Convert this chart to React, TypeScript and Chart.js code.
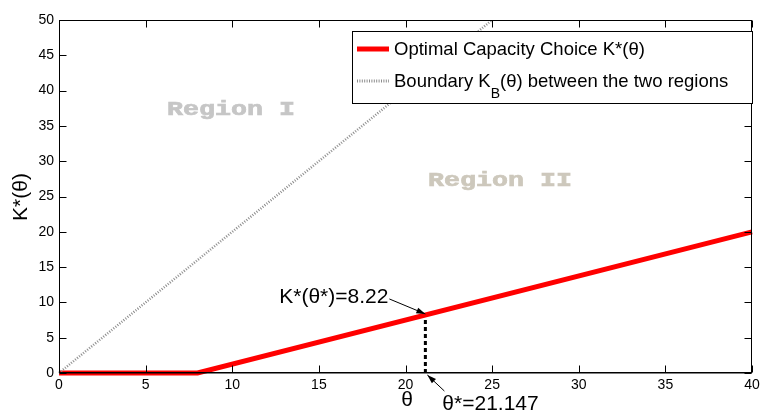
import { useEffect, useRef } from 'react';
import { Chart, registerables } from 'chart.js';

Chart.register(...registerables);

const W = 781;
const H = 411;

// Optimal capacity choice K*(θ)
const kStarTheta = [0, 8, 40];
const kStarValues = [0, 0, 20];
// Boundary K_B(θ) between the two regions
const boundaryTheta = [0, 25];
const boundaryValues = [0, 50];
// Threshold point
const thetaStar = 21.147;
const kAtThetaStar = 8.22;

const xMin = 0, xMax = 40, xStep = 5;
const yMin = 0, yMax = 50, yStep = 5;

const legendLabels = ['Optimal Capacity Choice K*(θ)', 'Boundary K', 'B', '(θ) between the two regions'];
const axisTitles = ['θ', 'K*(θ)'];
const annotationTexts = ['K*(θ*)=8.22', 'θ*=21.147'];
const regionLabels = ['Region I', 'Region II'];
const regionTheta = [6.23, 21.3];
const regionK = [37.25, 27.2];

const SANS = '"Liberation Sans", Arial, sans-serif';
const MONO = '"Liberation Mono", "Courier New", monospace';
const BOUNDARY_COLOR = '#8c8c8c';

function arrow(ctx: CanvasRenderingContext2D, x0: number, y0: number, x1: number, y1: number) {
  ctx.beginPath();
  ctx.moveTo(x0, y0);
  ctx.lineTo(x1, y1);
  ctx.strokeStyle = '#000';
  ctx.lineWidth = 1;
  ctx.setLineDash([]);
  ctx.stroke();
  const ang = Math.atan2(y1 - y0, x1 - x0);
  const len = 9, wid = 3;
  ctx.beginPath();
  ctx.moveTo(x1, y1);
  ctx.lineTo(x1 - len * Math.cos(ang) + wid * Math.sin(ang), y1 - len * Math.sin(ang) - wid * Math.cos(ang));
  ctx.lineTo(x1 - len * Math.cos(ang) - wid * Math.sin(ang), y1 - len * Math.sin(ang) + wid * Math.cos(ang));
  ctx.closePath();
  ctx.fillStyle = '#000';
  ctx.fill();
}

const decorPlugin = {
  id: 'decor',
  beforeDatasetsDraw(chart: any) {
    const { ctx, scales } = chart;
    const x = scales.x, y = scales.y;
    ctx.save();
    ctx.font = `bold 21px ${MONO}`;
    ctx.textBaseline = 'middle';
    ctx.textAlign = 'left';
    const cols = ['#c6c6c6', '#cdc8bc'];
    regionLabels.forEach((t, i) => {
      const px = x.getPixelForValue(regionTheta[i]);
      const py = y.getPixelForValue(regionK[i]);
      ctx.save();
      ctx.translate(px, py);
      ctx.scale(1.27, 1);
      ctx.fillStyle = cols[i];
      ctx.strokeStyle = cols[i];
      ctx.lineWidth = 0.7;
      ctx.fillText(t, 0, 0);
      ctx.strokeText(t, 0, 0);
      ctx.restore();
    });
    ctx.restore();
  },
  afterDatasetsDraw(chart: any) {
    const { ctx, chartArea: a, scales } = chart;
    const x = scales.x, y = scales.y;
    ctx.save();
    const L = Math.round(a.left) + 0.5, R = Math.round(a.right) - 0.5;
    const T = Math.round(a.top) + 0.5, B = Math.round(a.bottom) - 0.5;
    ctx.strokeStyle = '#000';
    ctx.lineWidth = 1;
    ctx.setLineDash([]);
    ctx.strokeRect(L, T, R - L, B - T);
    ctx.beginPath();
    ctx.moveTo(L, B + 0.5);
    ctx.lineTo(R, B + 0.5);
    ctx.stroke();
    const tl = 7;
    ctx.beginPath();
    for (let v = xMin; v <= xMax; v += xStep) {
      const px = Math.round(x.getPixelForValue(v)) + 0.5;
      ctx.moveTo(px, B); ctx.lineTo(px, B - tl);
      ctx.moveTo(px, T); ctx.lineTo(px, T + tl);
    }
    for (let v = yMin; v <= yMax; v += yStep) {
      const py = Math.round(y.getPixelForValue(v)) + 0.5;
      ctx.moveTo(L, py); ctx.lineTo(L + tl, py);
      ctx.moveTo(R, py); ctx.lineTo(R - tl, py);
    }
    ctx.stroke();

    // axis titles
    ctx.fillStyle = '#000';
    ctx.font = `21px ${SANS}`;
    ctx.textAlign = 'center';
    ctx.textBaseline = 'middle';
    ctx.fillText(axisTitles[0], (a.left + a.right) / 2 + 1.5, 400);
    ctx.save();
    ctx.translate(21, (a.top + a.bottom) / 2 + 0.5);
    ctx.rotate(-Math.PI / 2);
    ctx.fillText(axisTitles[1], 0, 0);
    ctx.restore();

    // annotations
    const tx = x.getPixelForValue(thetaStar);
    const ty = y.getPixelForValue(kAtThetaStar);
    const ty0 = y.getPixelForValue(0);
    arrow(ctx, tx - 36, ty - 16, tx, ty - 1);
    ctx.font = `21px ${SANS}`;
    ctx.textAlign = 'right';
    ctx.textBaseline = 'middle';
    ctx.fillStyle = '#000';
    ctx.fillText(annotationTexts[0], tx - 37, ty - 18);
    arrow(ctx, tx + 19, ty0 + 18, tx + 2, ty0 + 2);
    ctx.textAlign = 'left';
    ctx.fillText(annotationTexts[1], tx + 17, ty0 + 31);

    // legend
    const lx = 352.5, ly = 31.5, lw = 400, lh = 72;
    ctx.fillStyle = '#fff';
    ctx.fillRect(lx, ly, lw, lh);
    ctx.strokeStyle = '#000';
    ctx.lineWidth = 1;
    ctx.strokeRect(lx, ly, lw, lh);
    const r1 = 49, r2 = 81;
    ctx.beginPath();
    ctx.moveTo(357, r1); ctx.lineTo(389, r1);
    ctx.strokeStyle = '#ff0000';
    ctx.lineWidth = 5;
    ctx.stroke();
    ctx.beginPath();
    ctx.moveTo(357, r2); ctx.lineTo(389, r2);
    ctx.strokeStyle = BOUNDARY_COLOR;
    ctx.lineWidth = 3;
    ctx.setLineDash([1, 1.4]);
    ctx.stroke();
    ctx.setLineDash([]);
    ctx.fillStyle = '#000';
    ctx.textAlign = 'left';
    ctx.textBaseline = 'middle';
    ctx.font = `18.5px ${SANS}`;
    ctx.fillText(legendLabels[0], 394, r1 + 1);
    let cx = 394;
    ctx.fillText(legendLabels[1], cx, r2 + 1);
    cx += ctx.measureText(legendLabels[1]).width;
    ctx.font = `14px ${SANS}`;
    ctx.fillText(legendLabels[2], cx, r2 + 13);
    cx += ctx.measureText(legendLabels[2]).width;
    ctx.font = `18.5px ${SANS}`;
    ctx.fillText(legendLabels[3], cx, r2 + 1);
    ctx.restore();
  },
};

export default function App() {
  const ref = useRef<HTMLCanvasElement>(null);
  useEffect(() => {
    const canvas = ref.current;
    if (!canvas) return;
    const pts = (xs: number[], ys: number[]) => xs.map((v, i) => ({ x: v, y: ys[i] }));
    const chart = new Chart(canvas, {
      type: 'line',
      data: {
        datasets: [
          {
            label: 'Boundary',
            data: pts(boundaryTheta, boundaryValues),
            borderColor: BOUNDARY_COLOR,
            borderWidth: 2.5,
            borderDash: [1, 1.6],
            borderCapStyle: 'butt',
            pointRadius: 0,
            clip: false as any,
          },
          {
            label: 'Optimal',
            data: pts(kStarTheta, kStarValues),
            borderColor: '#ff0000',
            borderWidth: 5,
            pointRadius: 0,
            clip: false as any,
          },
          {
            label: 'Threshold',
            data: pts([thetaStar, thetaStar], [0, kAtThetaStar]),
            borderColor: '#000',
            borderWidth: 3,
            borderDash: [4, 3],
            pointRadius: 0,
            clip: false as any,
          },
        ],
      },
      options: {
        responsive: false,
        animation: false,
        devicePixelRatio: 1,
        layout: { padding: { top: 20, right: 29, left: 0, bottom: 0 } },
        plugins: { legend: { display: false }, tooltip: { enabled: false } },
        elements: { line: { tension: 0 } },
        scales: {
          x: {
            type: 'linear',
            min: xMin,
            max: xMax,
            grid: { display: false, drawTicks: false },
            border: { display: false },
            ticks: { stepSize: xStep, color: '#000', font: { family: SANS, size: 14 }, padding: 4, maxRotation: 0 },
            afterFit: (s: any) => { s.height = 38; },
          },
          y: {
            type: 'linear',
            min: yMin,
            max: yMax,
            grid: { display: false, drawTicks: false },
            border: { display: false },
            ticks: { stepSize: yStep, color: '#000', font: { family: SANS, size: 14 }, padding: 5 },
            afterFit: (s: any) => { s.width = 59; },
          },
        },
      },
      plugins: [decorPlugin],
    } as any);
    return () => chart.destroy();
  }, []);
  return (
    <div style={{ position: 'fixed', left: 0, top: 0, width: W, height: H, background: '#fff' }}>
      <canvas ref={ref} width={W} height={H} style={{ display: 'block', width: W, height: H }} />
    </div>
  );
}
